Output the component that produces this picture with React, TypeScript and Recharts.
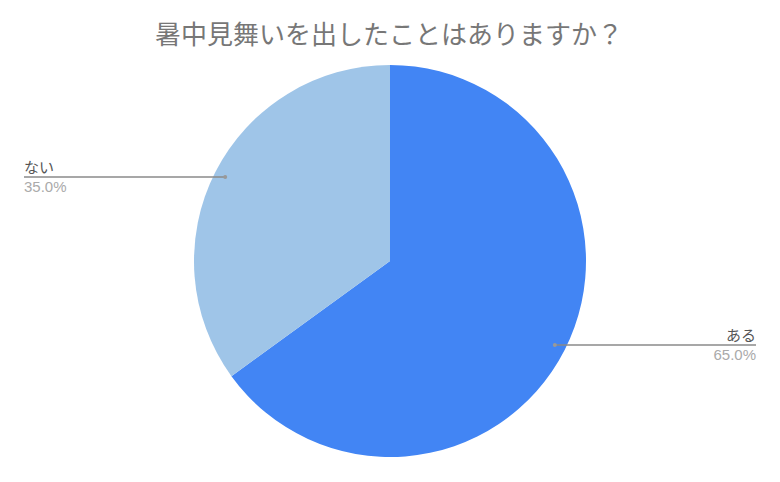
import React from 'react';
import { PieChart, Pie, Cell } from 'recharts';

const categories = ['ある', 'ない'];
const values = [65, 35];
const colors = ['#4285F4', '#9FC5E8'];
const title = '暑中見舞いを出したことはありますか？';

const data = categories.map((name, i) => ({ name, value: values[i] }));

const RADIAN = Math.PI / 180;

const renderLabel = (props: any) => {
  const { cx, cy, midAngle, outerRadius, percent, name } = props;
  const r = outerRadius - 11;
  const x = cx + r * Math.cos(-midAngle * RADIAN);
  const y = cy + r * Math.sin(-midAngle * RADIAN);
  const right = x > cx;
  const endX = right ? 756 : 24;
  const anchor = right ? 'end' : 'start';
  return (
    <g>
      <line x1={x} y1={y} x2={endX} y2={y} stroke="#8a8a8a" strokeWidth={1.3} />
      <circle cx={x} cy={y} r={2} fill="#999" />
      <text
        x={endX}
        y={y - 4}
        textAnchor={anchor}
        fontFamily='"Noto Sans CJK JP", sans-serif'
        fontSize={15}
        fill="#555"
      >
        {name}
      </text>
      <text
        x={endX}
        y={y + 15}
        textAnchor={anchor}
        fontFamily='"Liberation Sans", Arial, sans-serif'
        fontSize={15}
        fill="#aaa"
      >
        {(percent * 100).toFixed(1)}%
      </text>
    </g>
  );
};

export default function App() {
  return (
    <div style={{ position: 'absolute', left: 0, top: 0, width: 780, height: 482, background: '#fff' }}>
      <div
        style={{
          position: 'absolute',
          left: 0,
          top: 20,
          width: 778,
          textAlign: 'center',
          fontFamily: '"Noto Sans CJK JP", sans-serif',
          fontSize: 26,
          lineHeight: '26px',
          color: '#777',
          whiteSpace: 'nowrap',
        }}
      >
        {title}
      </div>
      <PieChart width={780} height={482} margin={{ top: 0, right: 0, bottom: 0, left: 0 }}>
        <Pie
          data={data}
          dataKey="value"
          nameKey="name"
          cx={390}
          cy={261}
          outerRadius={196}
          startAngle={90}
          endAngle={-270}
          stroke="none"
          label={renderLabel}
          labelLine={false}
          isAnimationActive={false}
        >
          {data.map((d, i) => (
            <Cell key={d.name} fill={colors[i]} />
          ))}
        </Pie>
      </PieChart>
    </div>
  );
}
